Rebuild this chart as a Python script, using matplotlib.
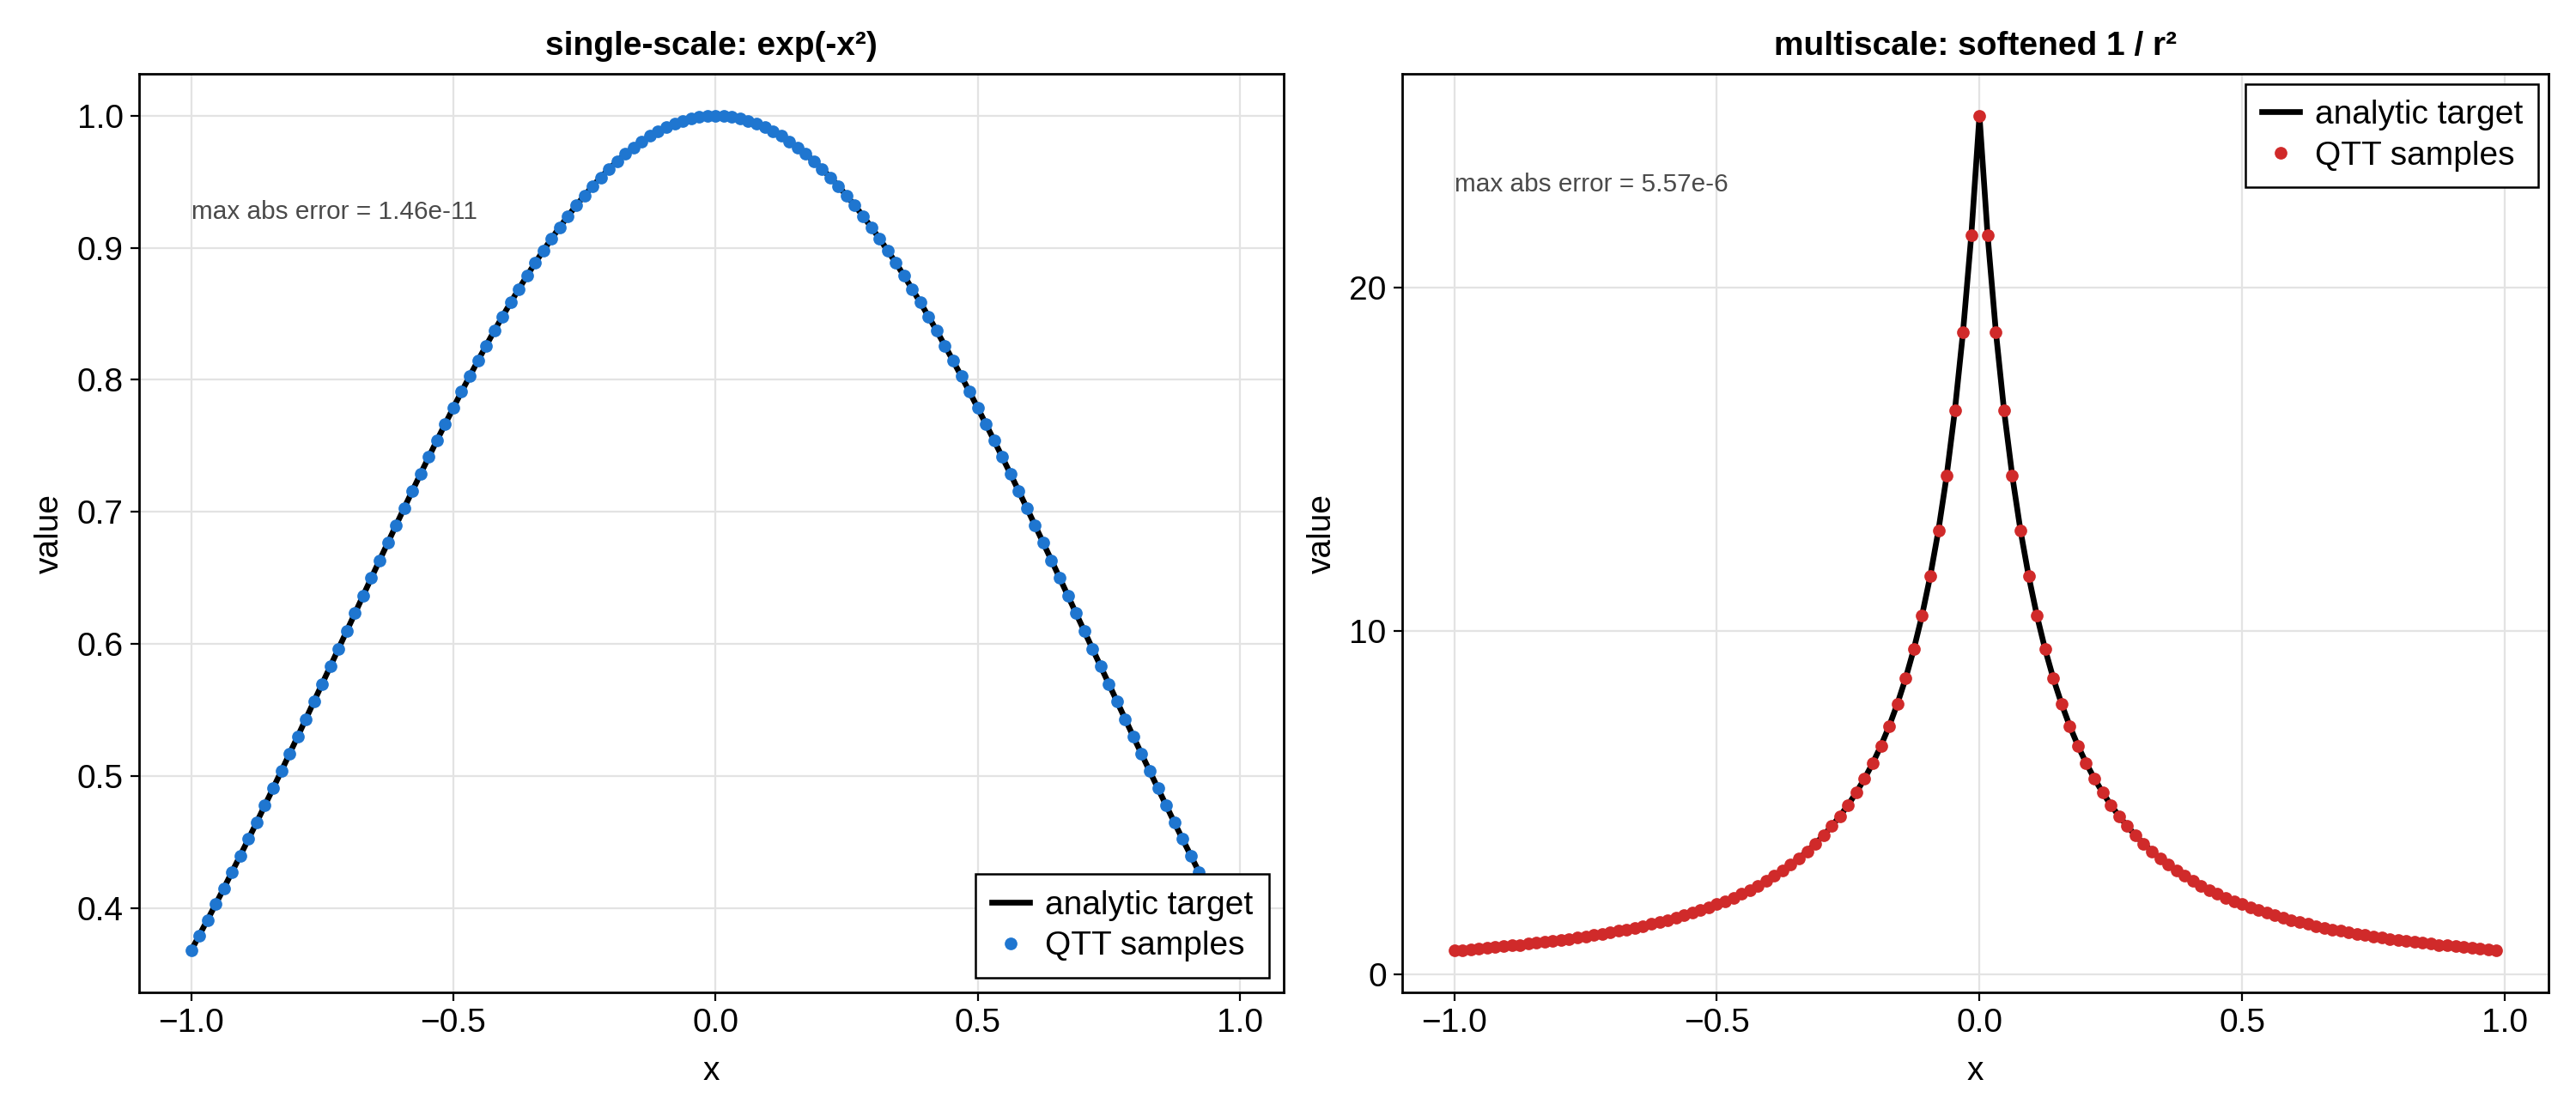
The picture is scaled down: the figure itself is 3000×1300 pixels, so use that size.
import matplotlib
matplotlib.use("Agg")
import matplotlib.pyplot as plt

plt.rcParams['font.family'] = ['Liberation Sans', 'DejaVu Sans']

# grid points (shared by both panels)
x_vals = [-1.0, -0.9844, -0.9688, -0.9531, -0.9375, -0.9219, -0.9063, -0.8906,
          -0.875, -0.8594, -0.8438, -0.8281, -0.8125, -0.7969, -0.7813, -0.7656,
          -0.75, -0.7344, -0.7188, -0.7031, -0.6875, -0.6719, -0.6563, -0.6406,
          -0.625, -0.6094, -0.5938, -0.5781, -0.5625, -0.5469, -0.5313, -0.5156,
          -0.5, -0.4844, -0.4688, -0.4531, -0.4375, -0.4219, -0.4063, -0.3906,
          -0.375, -0.3594, -0.3438, -0.3281, -0.3125, -0.2969, -0.2813, -0.2656,
          -0.25, -0.2344, -0.2188, -0.2031, -0.1875, -0.1719, -0.1563, -0.1406,
          -0.125, -0.1094, -0.0938, -0.0781, -0.0625, -0.0469, -0.0313, -0.0156,
          0.0, 0.0156, 0.0313, 0.0469, 0.0625, 0.0781, 0.0938, 0.1094,
          0.125, 0.1406, 0.1563, 0.1719, 0.1875, 0.2031, 0.2188, 0.2344,
          0.25, 0.2656, 0.2813, 0.2969, 0.3125, 0.3281, 0.3438, 0.3594,
          0.375, 0.3906, 0.4063, 0.4219, 0.4375, 0.4531, 0.4688, 0.4844,
          0.5, 0.5156, 0.5313, 0.5469, 0.5625, 0.5781, 0.5938, 0.6094,
          0.625, 0.6406, 0.6563, 0.6719, 0.6875, 0.7031, 0.7188, 0.7344,
          0.75, 0.7656, 0.7813, 0.7969, 0.8125, 0.8281, 0.8438, 0.8594,
          0.875, 0.8906, 0.9063, 0.9219, 0.9375, 0.9531, 0.9688, 0.9844]

# single-scale values
gauss_vals = [0.3679, 0.3795, 0.3912, 0.4031, 0.4152, 0.4275, 0.4399, 0.4524,
              0.4650, 0.4778, 0.4907, 0.5037, 0.5168, 0.5299, 0.5432, 0.5565,
              0.5698, 0.5832, 0.5965, 0.6099, 0.6233, 0.6367, 0.6501, 0.6634,
              0.6766, 0.6898, 0.7029, 0.7159, 0.7288, 0.7415, 0.7541, 0.7665,
              0.7788, 0.7909, 0.8027, 0.8144, 0.8258, 0.8370, 0.8479, 0.8585,
              0.8688, 0.8788, 0.8886, 0.8979, 0.9070, 0.9156, 0.9240, 0.9319,
              0.9394, 0.9466, 0.9533, 0.9596, 0.9655, 0.9709, 0.9759, 0.9804,
              0.9845, 0.9881, 0.9913, 0.9939, 0.9961, 0.9978, 0.9990, 0.9998,
              1.0000, 0.9998, 0.9990, 0.9978, 0.9961, 0.9939, 0.9913, 0.9881,
              0.9845, 0.9804, 0.9759, 0.9709, 0.9655, 0.9596, 0.9533, 0.9466,
              0.9394, 0.9319, 0.9240, 0.9156, 0.9070, 0.8979, 0.8886, 0.8788,
              0.8688, 0.8585, 0.8479, 0.8370, 0.8258, 0.8144, 0.8027, 0.7909,
              0.7788, 0.7665, 0.7541, 0.7415, 0.7288, 0.7159, 0.7029, 0.6898,
              0.6766, 0.6634, 0.6501, 0.6367, 0.6233, 0.6099, 0.5965, 0.5832,
              0.5698, 0.5565, 0.5432, 0.5299, 0.5168, 0.5037, 0.4907, 0.4778,
              0.4650, 0.4524, 0.4399, 0.4275, 0.4152, 0.4031, 0.3912, 0.3795]

# multiscale values
soft_vals = [0.694, 0.713, 0.732, 0.752, 0.773, 0.795, 0.817, 0.841,
             0.865, 0.891, 0.918, 0.946, 0.975, 1.006, 1.039, 1.072,
             1.108, 1.145, 1.185, 1.226, 1.270, 1.315, 1.364, 1.415,
             1.469, 1.527, 1.587, 1.652, 1.720, 1.793, 1.870, 1.953,
             2.041, 2.135, 2.236, 2.344, 2.461, 2.586, 2.721, 2.867,
             3.025, 3.196, 3.382, 3.585, 3.807, 4.050, 4.318, 4.612,
             4.938, 5.300, 5.703, 6.153, 6.660, 7.231, 7.879, 8.619,
             9.467, 10.448, 11.589, 12.928, 14.512, 16.408, 18.700, 21.508,
             25.000, 21.508, 18.700, 16.408, 14.512, 12.928, 11.589, 10.448,
             9.467, 8.619, 7.879, 7.231, 6.660, 6.153, 5.703, 5.300,
             4.938, 4.612, 4.318, 4.050, 3.807, 3.585, 3.382, 3.196,
             3.025, 2.867, 2.721, 2.586, 2.461, 2.344, 2.236, 2.135,
             2.041, 1.953, 1.870, 1.793, 1.720, 1.652, 1.587, 1.527,
             1.469, 1.415, 1.364, 1.315, 1.270, 1.226, 1.185, 1.145,
             1.108, 1.072, 1.039, 1.006, 0.975, 0.946, 0.918, 0.891,
             0.865, 0.841, 0.817, 0.795, 0.773, 0.752, 0.732, 0.713]

titles = ["single-scale: exp(-x²)", "multiscale: softened 1 / r²"]
error_texts = ["max abs error = 1.46e-11", "max abs error = 5.57e-6"]
x_ticks = [-1.0, -0.5, 0.0, 0.5, 1.0]
x_tick_labels = ["−1.0", "−0.5", "0.0", "0.5", "1.0"]
y_ticks_left = [0.4, 0.5, 0.6, 0.7, 0.8, 0.9, 1.0]
y_ticks_right = [0, 10, 20]

BLUE = "#1f76d0"
RED = "#d02a2a"
FS = 14

fig = plt.figure(figsize=(15, 6.5), dpi=200)
ax1 = fig.add_axes([162/3000, 1 - 1156/1300, 1333/3000, 1070/1300])
ax2 = fig.add_axes([1633/3000, 1 - 1156/1300, 1335/3000, 1070/1300])

def style(ax, yticks):
    ax.set_xticks(x_ticks)
    ax.set_xticklabels(x_tick_labels)
    ax.set_yticks(yticks)
    ax.grid(True, color="#e3e3e3", linewidth=0.8, zorder=0)
    ax.set_axisbelow(True)
    for s in ax.spines.values():
        s.set_linewidth(1.0)
        s.set_color("black")
    ax.tick_params(direction="out", length=3.6, width=0.8, labelsize=FS, pad=3)
    ax.set_xlabel("x", fontsize=FS, labelpad=7)
    ax.set_ylabel("value", fontsize=FS, labelpad=5)

def margin(vals):
    lo, hi = min(vals), max(vals)
    d = (hi - lo) * 0.05
    return lo - d, hi + d

def legend(ax, loc, pad):
    leg = ax.legend(loc=loc, fontsize=FS, frameon=True, fancybox=False,
                    framealpha=1, edgecolor="black", borderaxespad=pad,
                    handlelength=1.15, handletextpad=0.45, labelspacing=0.3,
                    borderpad=0.47)
    leg.get_frame().set_linewidth(0.9)
    leg.set_zorder(10)

# left panel
ax1.plot(x_vals, gauss_vals, color="black", lw=2.4, label="analytic target", zorder=3)
ax1.plot(x_vals, gauss_vals, ls="none", marker="o", ms=5.3, color=BLUE,
         mec="none", label="QTT samples", zorder=4)
ax1.set_xlim(*margin(x_vals))
ax1.set_ylim(*margin(gauss_vals))
style(ax1, y_ticks_left)
ax1.set_yticklabels([f"{t:.1f}" for t in y_ticks_left])
ax1.set_title(titles[0], fontsize=FS, fontweight="bold", pad=8)
ax1.text(x_vals[0], 0.927, error_texts[0], fontsize=10.7, color="#4a4a4a",
         ha="left", va="center")
legend(ax1, "lower right", 0.45)

# right panel
ax2.plot(x_vals, soft_vals, color="black", lw=2.4, label="analytic target", zorder=3)
ax2.plot(x_vals, soft_vals, ls="none", marker="o", ms=5.3, color=RED,
         mec="none", label="QTT samples", zorder=4)
ax2.set_xlim(*margin(x_vals))
ax2.set_ylim(*margin(soft_vals))
style(ax2, y_ticks_right)
ax2.set_title(titles[1], fontsize=FS, fontweight="bold", pad=8)
ax2.text(x_vals[0], 23.0, error_texts[1], fontsize=10.7, color="#4a4a4a",
         ha="left", va="center")
legend(ax2, "upper right", 0.3)

fig.savefig("out.png", dpi=200)
